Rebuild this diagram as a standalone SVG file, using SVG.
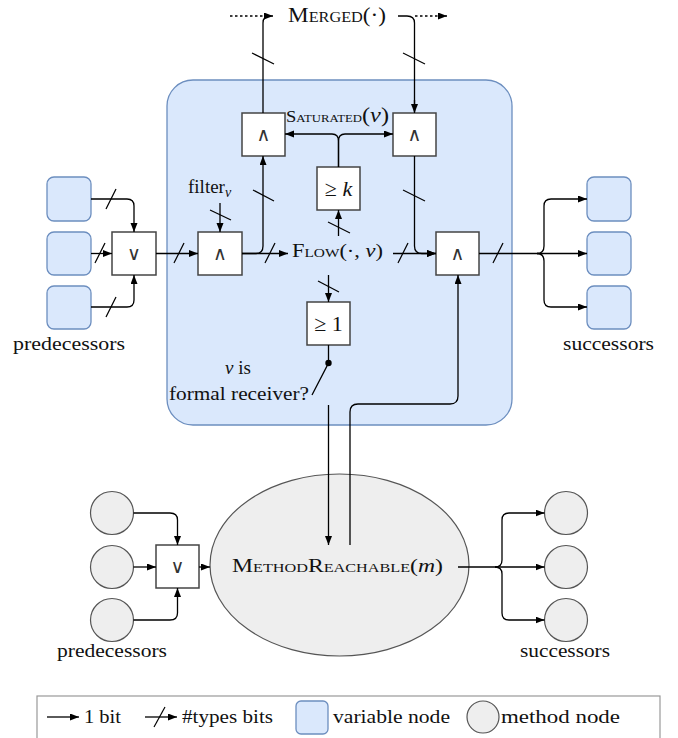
<svg xmlns="http://www.w3.org/2000/svg" width="678" height="738" viewBox="0 0 678 738">
<style>
  text { font-family: "Liberation Serif", "DejaVu Serif", serif; font-size: 19px; fill: #111; }
  .sc { font-variant: small-caps; }
  .it { font-style: italic; }
  .op { font-family: "DejaVu Sans", "Liberation Sans", sans-serif; font-size: 19px; fill: #333; text-anchor: middle; }
  .cmp { font-size: 22px; text-anchor: middle; }
  .gate { fill: #ffffff; stroke: #444; stroke-width: 1.5; }
  .var { fill: #dae8fc; stroke: #6c8ebf; stroke-width: 1.3; }
  .meth { fill: #eeeeee; stroke: #555; stroke-width: 1.2; }
  .c { fill: none; stroke: #000; stroke-width: 1.3; }
  .a { marker-end: url(#ah); }
  .d { stroke-dasharray: 2.5 2.5; }
  .tick { stroke: #000; stroke-width: 1.2; }
</style>
<defs>
  <marker id="ah" markerUnits="userSpaceOnUse" markerWidth="10" markerHeight="8" refX="9" refY="3.5" orient="auto">
    <path d="M0,0 L9,3.5 L0,7 z" fill="#000"/>
  </marker>
</defs>

<g id="function-box">
  <rect x="167" y="80" width="345" height="345" rx="26" fill="#dae8fc" stroke="#6c8ebf" stroke-width="1.3"/>
</g>

<g id="merged-label">
  <text x="288" y="22" class="sc" style="font-size:20px" textLength="98" lengthAdjust="spacingAndGlyphs">Merged(·)</text>
</g>

<g id="and-top-left"><rect class="gate" x="242" y="113" width="43" height="43"/><text class="op" x="263.5" y="141">∧</text></g>
<g id="and-top-right"><rect class="gate" x="393" y="113" width="43" height="43"/><text class="op" x="414.5" y="141">∧</text></g>
<g id="geq-k"><rect class="gate" x="317" y="167" width="43" height="43"/><text class="cmp" x="338.5" y="196">≥ <tspan class="it">k</tspan></text></g>
<g id="or-left"><rect class="gate" x="112" y="232" width="44" height="43"/><text class="op" x="134" y="260">∨</text></g>
<g id="and-mid"><rect class="gate" x="198" y="232" width="44" height="43"/><text class="op" x="220" y="260">∧</text></g>
<g id="and-right"><rect class="gate" x="436" y="232" width="43" height="43"/><text class="op" x="457.5" y="260">∧</text></g>
<g id="geq-1"><rect class="gate" x="307" y="302" width="43" height="43"/><text class="cmp" x="328.5" y="331">≥ 1</text></g>

<g id="saturated-label">
  <text x="286" y="122" textLength="103" lengthAdjust="spacingAndGlyphs"><tspan class="sc" font-size="16">Saturated</tspan><tspan font-size="21">(</tspan><tspan class="it" font-size="21">v</tspan><tspan font-size="21">)</tspan></text>
</g>
<g id="filter-label">
  <text x="188" y="193">filter<tspan class="it" font-size="14" dy="4">v</tspan></text>
</g>
<g id="flow-label">
  <text x="292" y="257" textLength="91" lengthAdjust="spacingAndGlyphs"><tspan class="sc">Flow</tspan>(·, <tspan class="it">v</tspan>)</text>
</g>
<g id="receiver-label">
  <text x="238" y="374" text-anchor="middle"><tspan class="it">v</tspan> is</text>
  <text x="169" y="400" textLength="140" lengthAdjust="spacingAndGlyphs">formal receiver?</text>
</g>

<g id="pred-var-1"><rect class="var" x="47" y="177" width="44" height="44" rx="7"/></g>
<g id="pred-var-2"><rect class="var" x="47" y="232" width="44" height="43" rx="7"/></g>
<g id="pred-var-3"><rect class="var" x="47" y="286" width="44" height="43" rx="7"/></g>
<g id="succ-var-1"><rect class="var" x="587" y="177" width="44" height="44" rx="7"/></g>
<g id="succ-var-2"><rect class="var" x="587" y="232" width="44" height="43" rx="7"/></g>
<g id="succ-var-3"><rect class="var" x="587" y="286" width="44" height="43" rx="7"/></g>
<g id="pred-var-label"><text x="13" y="350" textLength="112" lengthAdjust="spacingAndGlyphs">predecessors</text></g>
<g id="succ-var-label"><text x="563" y="350" textLength="91" lengthAdjust="spacingAndGlyphs">successors</text></g>

<g id="method-reachable">
  <ellipse class="meth" cx="339.5" cy="565" rx="129.5" ry="91"/>
  <text x="232" y="572" textLength="211" lengthAdjust="spacingAndGlyphs"><tspan class="sc">MethodReachable</tspan>(<tspan class="it">m</tspan>)</text>
</g>
<g id="or-bottom"><rect class="gate" x="156" y="545" width="43" height="43"/><text class="op" x="177.5" y="573">∨</text></g>
<g id="pred-meth-1"><circle class="meth" cx="112" cy="513" r="21.5"/></g>
<g id="pred-meth-2"><circle class="meth" cx="112" cy="567" r="21.5"/></g>
<g id="pred-meth-3"><circle class="meth" cx="112" cy="620" r="21.5"/></g>
<g id="succ-meth-1"><circle class="meth" cx="566" cy="513" r="21.5"/></g>
<g id="succ-meth-2"><circle class="meth" cx="566" cy="567" r="21.5"/></g>
<g id="succ-meth-3"><circle class="meth" cx="566" cy="620" r="21.5"/></g>
<g id="pred-meth-label"><text x="57" y="657" textLength="110" lengthAdjust="spacingAndGlyphs">predecessors</text></g>
<g id="succ-meth-label"><text x="520" y="657" textLength="90" lengthAdjust="spacingAndGlyphs">successors</text></g>

<g id="connectors">
  <path class="c d" d="M230,16 H264"/>
  <path class="c a" d="M263,113 V23 Q263,16 270,16 H273"/>
  <path class="c" d="M398,16 H407 Q414.5,16 414.5,23 V112"/>
  <path class="c a" d="M414.5,100 V113"/>
  <path class="c d a" d="M415,16 H447"/>
  <line class="tick" x1="252" y1="53" x2="274" y2="64"/>
  <line class="tick" x1="403" y1="53" x2="425" y2="64"/>
  <path class="c a" d="M338.5,167 V141 Q338.5,134 332,134 H285"/>
  <path class="c a" d="M338.5,167 V141 Q338.5,134 345,134 H393"/>
  <path class="c a" d="M338.5,236 V210"/>
  <line class="tick" x1="328" y1="222" x2="350" y2="233"/>
  <path class="c a" d="M91,199 H127 Q134,199 134,206 V232"/>
  <line class="tick" x1="106" y1="209" x2="116" y2="189"/>
  <path class="c a" d="M91,253.5 H112"/>
  <line class="tick" x1="95" y1="263" x2="105" y2="243"/>
  <path class="c a" d="M91,307 H127 Q134,307 134,300 V275"/>
  <line class="tick" x1="106" y1="317" x2="116" y2="297"/>
  <path class="c a" d="M156,253.5 H198"/>
  <line class="tick" x1="174" y1="263" x2="184" y2="243"/>
  <path class="c a" d="M220,203 V232"/>
  <line class="tick" x1="210" y1="210" x2="231" y2="220"/>
  <path class="c a" d="M242,253.5 H288"/>
  <line class="tick" x1="265" y1="263" x2="275" y2="243"/>
  <path class="c a" d="M242,253.5 H256 Q263,253.5 263,246 V156"/>
  <line class="tick" x1="253" y1="190" x2="274" y2="201"/>
  <path class="c a" d="M393,253.5 H436"/>
  <line class="tick" x1="398" y1="263" x2="408" y2="243"/>
  <path class="c a" d="M414.5,156 V246 Q414.5,253.5 422,253.5 H436"/>
  <line class="tick" x1="403" y1="190" x2="425" y2="201"/>
  <path class="c a" d="M328.5,275 V302"/>
  <line class="tick" x1="318" y1="281" x2="339" y2="292"/>
  <path class="c" d="M328.5,345 V363 L312,395"/>
  <circle cx="328.5" cy="363" r="3.2" fill="#000"/>
  <path class="c a" d="M328.5,405 V545"/>
  <path class="c a" d="M350,545 V412 Q350,404 358,404 H450 Q458,404 458,396 V275"/>
  <path class="c" d="M479,253.5 H537"/>
  <line class="tick" x1="493" y1="263" x2="503" y2="243"/>
  <path class="c a" d="M537,253.5 Q544,253.5 544,246 V206 Q544,199 551,199 H587"/>
  <path class="c a" d="M537,253.5 H587"/>
  <path class="c a" d="M537,253.5 Q544,253.5 544,261 V300 Q544,307 551,307 H587"/>
  <path class="c a" d="M133.5,513 H170 Q177.5,513 177.5,520 V545"/>
  <path class="c a" d="M133.5,567 H156"/>
  <path class="c a" d="M133.5,620 H170 Q177.5,620 177.5,613 V588"/>
  <path class="c a" d="M199,567 H210"/>
  <path class="c" d="M458,567 H495"/>
  <path class="c a" d="M495,567 Q502,567 502,560 V520 Q502,513 509,513 H544.5"/>
  <path class="c a" d="M495,567 H544.5"/>
  <path class="c a" d="M495,567 Q502,567 502,574 V613 Q502,620 509,620 H544.5"/>
</g>

<g id="legend">
  <rect x="37" y="696" width="623" height="44" fill="#fff" stroke="#999" stroke-width="1.2"/>
  <path class="c a" d="M47,717 H79"/>
  <text x="84" y="723" textLength="37" lengthAdjust="spacingAndGlyphs">1 bit</text>
  <path class="c a" d="M145,717 H177"/>
  <line class="tick" x1="154" y1="727" x2="165" y2="707"/>
  <text x="182" y="723" textLength="91" lengthAdjust="spacingAndGlyphs">#types bits</text>
  <rect class="var" x="296" y="701" width="32" height="33" rx="5"/>
  <text x="333" y="723" textLength="117" lengthAdjust="spacingAndGlyphs">variable node</text>
  <circle class="meth" cx="483" cy="717" r="16"/>
  <text x="501" y="723" textLength="119" lengthAdjust="spacingAndGlyphs">method node</text>
</g>
</svg>
